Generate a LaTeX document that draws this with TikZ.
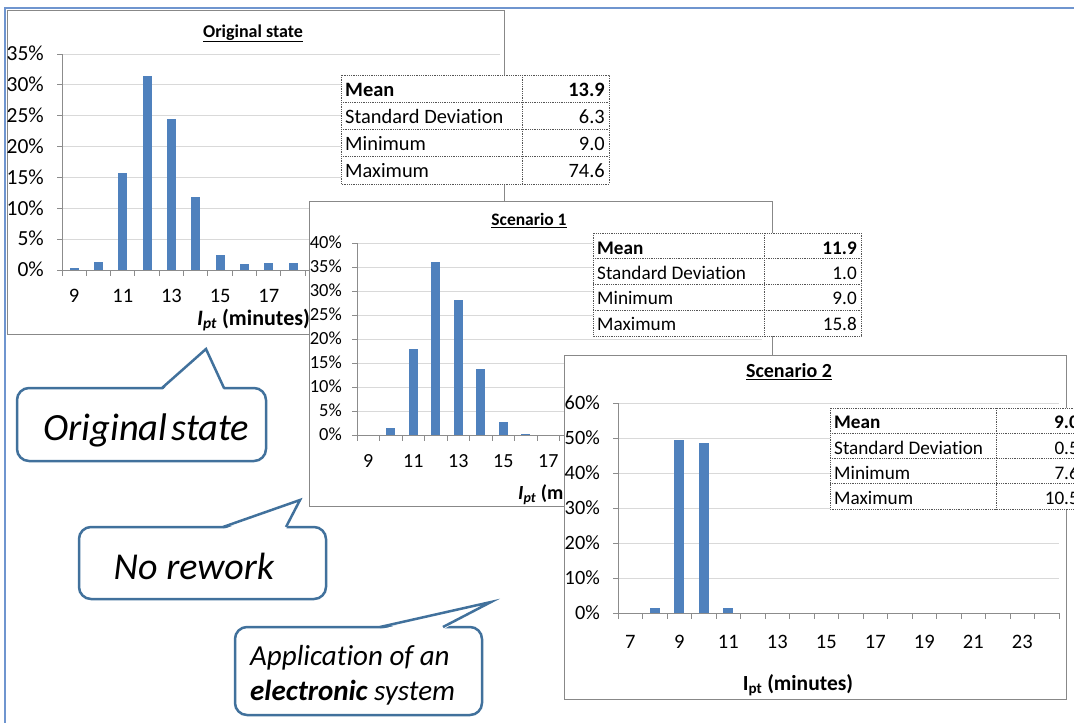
\documentclass[tikz,border=0pt]{standalone}
\usepackage{fontspec}
\setmainfont{Carlito}[RawFeature=-liga]
\newcommand\pxfont[1]{\fontsize{#1pt}{#1pt}\selectfont}
\definecolor{barblue}{HTML}{4F81BD}
\definecolor{gridgray}{HTML}{D9D9D9}
\definecolor{axisgray}{HTML}{8C8C8C}
\definecolor{boxgray}{HTML}{888888}
\definecolor{tblgray}{HTML}{555555}
\definecolor{callblue}{HTML}{41719C}
\definecolor{framblue}{HTML}{6F95CF}
\begin{document}
\begin{tikzpicture}[x=1pt,y=-1pt,
  chartbox/.style={draw=boxgray,fill=white,line width=1pt},
  gridln/.style={draw=gridgray,line width=1pt},
  axisln/.style={draw=axisgray,line width=1pt},
  lbl/.style={inner sep=0pt},
  tbl/.style={draw=tblgray,densely dotted,line width=0.8pt},
  callbox/.style={draw=callblue,line width=2.5pt,fill=white,rounded corners=12pt},
  callptr/.style={draw=callblue,line width=2.5pt,line join=miter},
  calltext/.style={inner sep=0pt,anchor=base west}]
\useasboundingbox (0,0) rectangle (1074,723);
\clip (0,0) rectangle (1074,723);

% outer frame
\draw[framblue,line width=2pt] (5,723) -- (5,8) -- (1074,8);

% ---------- Original state chart ----------
\draw[chartbox] (7,10) rectangle (504,334);
\node[lbl,anchor=base,font=\pxfont{18}\bfseries] (ta) at (253,37) {\underline{Original state}};
\foreach \k in {1,...,7}
  \draw[gridln] (62,{270-\k*30.857}) -- (500,{270-\k*30.857});
\foreach \k in {0,...,7}
  \draw[axisln] (57,{270-\k*30.857}) -- (62,{270-\k*30.857});
\draw[axisln] (62,54) -- (62,270) -- (500,270);
\foreach \k in {0,...,18}
  \draw[axisln] ({62+\k*24.33},270) -- ({62+\k*24.33},276);
\foreach \i/\v in {0/0.3,1/1.25,2/15.8,3/31.4,4/24.5,5/11.8,6/2.5,7/0.9,8/1.1,9/1.2}
  \fill[barblue] ({62+(\i+0.5)*24.33-4.5},270) rectangle ({62+(\i+0.5)*24.33+4.5},{270-\v*6.171});
\foreach \k in {0,...,7}
  \node[lbl,anchor=base east,font=\pxfont{21.5}] (ya\k) at (44,{276.8-\k*30.857}) {\the\numexpr\k*5\relax\%};
\foreach \j/\t in {0/9,2/11,4/13,6/15,8/17}
  \node[lbl,anchor=base,font=\pxfont{20.5}] (xa\t) at ({62+(\j+0.5)*24.33},302) {\t};
\node[lbl,anchor=base west,font=\pxfont{22}\bfseries] (axa) at (197,325) {\textit{I}\textsubscript{\textit{pt}} (minutes)};

% statistics, original state
\draw[tbl,fill=white] (341,75) rectangle (609,184);
\foreach \yy in {102.25,129.5,156.75} \draw[tbl] (341,\yy) -- (609,\yy);
\draw[tbl] (522,75) -- (522,184);
\node[lbl,anchor=base west,font=\pxfont{20.4}\bfseries] (sa0) at (345,96.5) {Mean};
\node[lbl,anchor=base east,font=\pxfont{20.4}\bfseries] (va0) at (605,96.5) {13.9};
\node[lbl,anchor=base west,font=\pxfont{20.4}] (sa1) at (345,123.3) {Standard Deviation};
\node[lbl,anchor=base east,font=\pxfont{20.4}] (va1) at (605,123.3) {6.3};
\node[lbl,anchor=base west,font=\pxfont{20.4}] (sa2) at (345,150) {Minimum};
\node[lbl,anchor=base east,font=\pxfont{20.4}] (va2) at (605,150) {9.0};
\node[lbl,anchor=base west,font=\pxfont{20.4}] (sa3) at (345,177.3) {Maximum};
\node[lbl,anchor=base east,font=\pxfont{20.4}] (va3) at (605,177.3) {74.6};

% ---------- Scenario 1 chart ----------
\draw[chartbox] (309,201) rectangle (772,506);
\node[lbl,anchor=base,font=\pxfont{17.5}\bfseries] (tb) at (529,225.5) {\underline{Scenario 1}};
\foreach \k in {1,...,8}
  \draw[gridln] (357,{435-\k*24}) -- (762,{435-\k*24});
\foreach \k in {0,...,8}
  \draw[axisln] (352,{435-\k*24}) -- (357,{435-\k*24});
\draw[axisln] (357,243) -- (357,435) -- (762,435);
\foreach \k in {0,...,18}
  \draw[axisln] ({357+\k*22.5},435) -- ({357+\k*22.5},441);
\foreach \i/\v in {1/1.5,2/17.9,3/36.0,4/28.2,5/13.7,6/2.8,7/0.25}
  \fill[barblue] ({357+(\i+0.5)*22.5-4.5},435) rectangle ({357+(\i+0.5)*22.5+4.5},{435-\v*4.8});
\foreach \k in {0,...,8}
  \node[lbl,anchor=base east,font=\pxfont{18.5}] (yb\k) at (342,{440.8-\k*24}) {\the\numexpr\k*5\relax\%};
\foreach \j/\t in {0/9,2/11,4/13,6/15,8/17}
  \node[lbl,anchor=base,font=\pxfont{20}] (xb\t) at ({357+(\j+0.5)*22.5},467) {\t};
\node[lbl,anchor=base west,font=\pxfont{20}\bfseries] (axb) at (518,499) {\textit{I}\textsubscript{\textit{pt}} (minutes)};

% statistics, scenario 1
\draw[tbl,fill=white] (593,233) rectangle (861,336);
\foreach \yy in {258.75,284.5,310.25} \draw[tbl] (593,\yy) -- (861,\yy);
\draw[tbl] (764,233) -- (764,336);
\node[lbl,anchor=base west,font=\pxfont{19.2}\bfseries] (sb0) at (597,254) {Mean};
\node[lbl,anchor=base east,font=\pxfont{19.2}\bfseries] (vb0) at (857,254) {11.9};
\node[lbl,anchor=base west,font=\pxfont{19.2}] (sb1) at (597,279) {Standard Deviation};
\node[lbl,anchor=base east,font=\pxfont{19.2}] (vb1) at (857,279) {1.0};
\node[lbl,anchor=base west,font=\pxfont{19.2}] (sb2) at (597,304.3) {Minimum};
\node[lbl,anchor=base east,font=\pxfont{19.2}] (vb2) at (857,304.3) {9.0};
\node[lbl,anchor=base west,font=\pxfont{19.2}] (sb3) at (597,330) {Maximum};
\node[lbl,anchor=base east,font=\pxfont{19.2}] (vb3) at (857,330) {15.8};

% ---------- Scenario 2 chart ----------
\draw[chartbox] (564,355) rectangle (1066,699);
\node[lbl,anchor=base,font=\pxfont{20}\bfseries] (tc) at (789,377.5) {\underline{Scenario 2}};
\foreach \k in {1,...,6}
  \draw[gridln] (618,{613-\k*35}) -- (1059,{613-\k*35});
\foreach \k in {0,...,6}
  \draw[axisln] (613,{613-\k*35}) -- (618,{613-\k*35});
\draw[axisln] (618,403) -- (618,613) -- (1059,613);
\foreach \k in {0,...,18}
  \draw[axisln] ({618+\k*24.5},613) -- ({618+\k*24.5},619);
\foreach \i/\v in {1/1.3,2/49.4,3/48.7,4/1.3}
  \fill[barblue] ({618+(\i+0.5)*24.5-5},613) rectangle ({618+(\i+0.5)*24.5+5},{613-\v*3.5});
\foreach \k in {0,...,6}
  \node[lbl,anchor=base east,font=\pxfont{20.3}] (yc\k) at (600,{619.4-\k*35}) {\the\numexpr\k*10\relax\%};
\foreach \j/\t in {0/7,2/9,4/11,6/13,8/15,10/17,12/19,14/21,16/23}
  \node[lbl,anchor=base,font=\pxfont{20.5}] (xc\t) at ({618+(\j+0.5)*24.5},648) {\t};
\node[lbl,anchor=base,font=\pxfont{21.5}\bfseries] (axc) at (798,690) {I\textsubscript{pt} (minutes)};

% statistics, scenario 2
\draw[tbl,fill=white] (830,408) rectangle (1090,509);
\foreach \yy in {433.25,458.5,483.75} \draw[tbl] (830,\yy) -- (1090,\yy);
\draw[tbl] (996,408) -- (996,509);
\node[lbl,anchor=base west,font=\pxfont{19.2}\bfseries] (sc0) at (834,428.3) {Mean};
\node[lbl,anchor=base east,font=\pxfont{19.2}\bfseries] (vc0) at (1079,428.3) {9.0};
\node[lbl,anchor=base west,font=\pxfont{19.2}] (sc1) at (834,454) {Standard Deviation};
\node[lbl,anchor=base east,font=\pxfont{19.2}] (vc1) at (1079,454) {0.5};
\node[lbl,anchor=base west,font=\pxfont{19.2}] (sc2) at (834,479.3) {Minimum};
\node[lbl,anchor=base east,font=\pxfont{19.2}] (vc2) at (1079,479.3) {7.6};
\node[lbl,anchor=base west,font=\pxfont{19.2}] (sc3) at (834,504) {Maximum};
\node[lbl,anchor=base east,font=\pxfont{19.2}] (vc3) at (1079,504) {10.5};

% ---------- callouts ----------
\draw[callbox] (17,388) rectangle (266,461);
\fill[white] (162,390.5) -- (206,349) -- (224,390.5) -- cycle;
\draw[callptr] (162,388) -- (206,349) -- (224,388);
\node[calltext,font=\pxfont{38.5}\itshape] (ca) at (43,440) {Original\hspace{-0.12em} state};

\draw[callbox] (79,527) rectangle (326,599);
\fill[white] (223,529.5) -- (300,500) -- (286,529.5) -- cycle;
\draw[callptr] (223,527) -- (300,500) -- (286,527);
\node[calltext,font=\pxfont{38}\itshape] (cb) at (113.5,579) {No rework};

\draw[callbox] (235,627) rectangle (482,715);
\fill[white] (380,629.5) -- (491,602) -- (443,629.5) -- cycle;
\draw[callptr] (380,627) -- (491,602) -- (443,627);
\node[calltext,font=\pxfont{29}\itshape] (cc1) at (250,665) {Application of an};
\node[calltext,font=\pxfont{29}\itshape] (cc2) at (250,700) {\textbf{electronic} system};
\end{tikzpicture}
\end{document}
